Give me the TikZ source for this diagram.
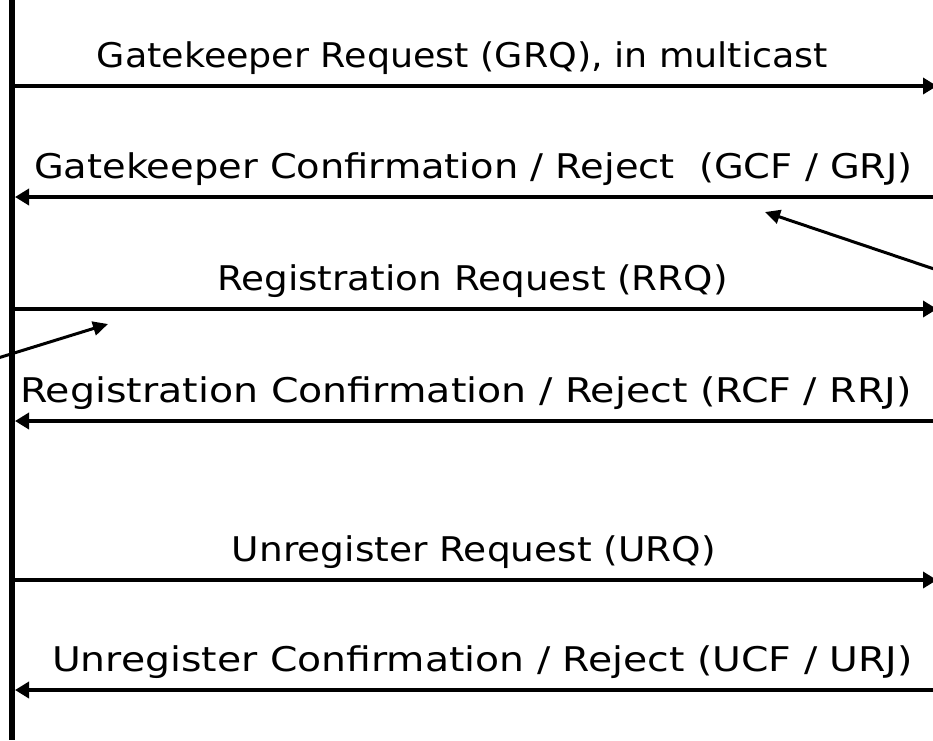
\documentclass[tikz,border=0pt]{standalone}
\usepackage{fontspec}
\setmainfont{DejaVu Sans}
\usetikzlibrary{arrows.meta}
\begin{document}
\begin{tikzpicture}[x=1pt,y=-1pt,
  lifeline/.style={line width=5.5pt},
  msg/.style={line width=4.5pt,-{Triangle[length=14pt,width=16pt]}},
  msgback/.style={msg,shorten >=3pt},
  pointer/.style={line width=3pt,-{Triangle[length=15pt,width=14pt]}},
  msglabel/.style={anchor=base,inner sep=0pt,font=\fontsize{34}{40}\selectfont}]
\useasboundingbox (0,0) rectangle (933,740);
% lifeline on the left
\coordinate (top) at (12,0);
\coordinate (bot) at (12,740);
\draw[lifeline] (top) -- (bot);
% message end points: left lane (L) and right lane (R)
\foreach \i/\y in {1/86,2/197,3/309,4/421,5/580,6/690}{
  \coordinate (L\i) at (12,\y);
  \coordinate (R\i) at (937,\y);
}
\draw[msg] (L1) -- (R1);
\draw[msgback] (R2) -- (L2);
\draw[msg] (L3) -- (R3);
\draw[msgback] (R4) -- (L4);
\draw[msg] (L5) -- (R5);
\draw[msgback] (R6) -- (L6);
% labels, widened a little to the lettering of the sheet
\node[msglabel] (t1) at (462.5,67) {\scalebox{1.072}[1]{Gatekeeper Request (GRQ), in multicast}};
\node[msglabel] (t2) at (473.5,178) {\scalebox{1.129}[1]{Gatekeeper Confirmation / Reject \ (GCF / GRJ)}};
\node[msglabel] (t3) at (472.5,290) {\scalebox{1.097}[1]{Registration Request (RRQ)}};
\node[msglabel] (t4) at (466,402) {\scalebox{1.162}[1]{Registration Confirmation / Reject (RCF / RRJ)}};
\node[msglabel] (t5) at (474,561) {\scalebox{1.103}[1]{Unregister Request (URQ)}};
\node[msglabel] (t6) at (482.5,671) {\scalebox{1.157}[1]{Unregister Confirmation / Reject (UCF / URJ)}};
% pointer arrows
\coordinate (p1s) at (937,270);
\coordinate (p1e) at (765,212);
\coordinate (p2s) at (-2,358);
\coordinate (p2e) at (108,324);
\draw[pointer] (p1s) -- (p1e);
\draw[pointer] (p2s) -- (p2e);
\end{tikzpicture}
\end{document}
